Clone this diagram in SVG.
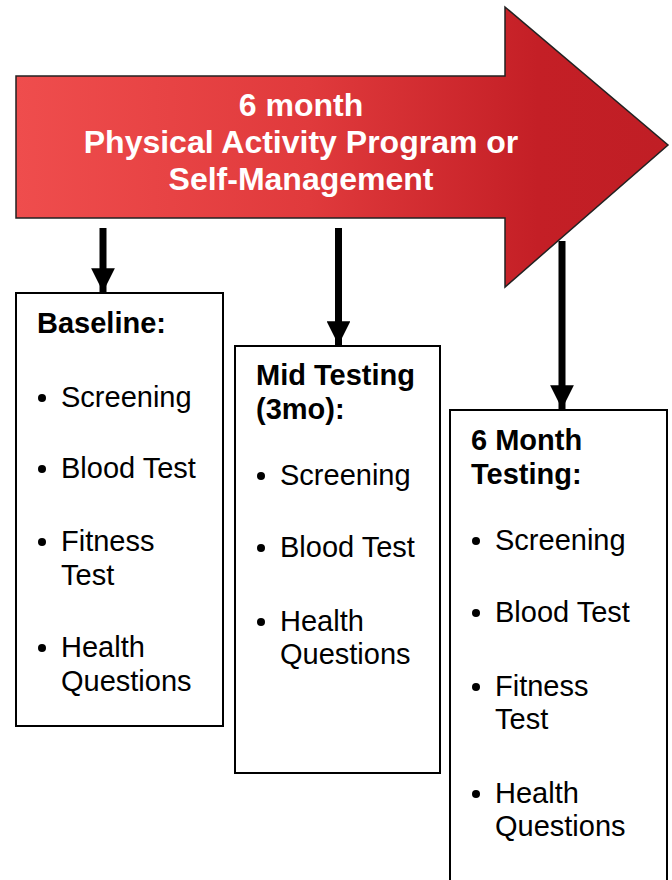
<svg xmlns="http://www.w3.org/2000/svg" width="672" height="880" viewBox="0 0 672 880">
<defs>
<linearGradient id="red" x1="0" y1="0" x2="1" y2="0" gradientUnits="objectBoundingBox">
<stop offset="0" stop-color="#EF4D4D"/>
<stop offset="0.45" stop-color="#E03A3C"/>
<stop offset="0.8" stop-color="#C41F26"/>
<stop offset="1" stop-color="#C01E25"/>
</linearGradient>
<marker id="ah" markerWidth="3.4" markerHeight="3.4" refX="3.4" refY="1.7" orient="auto" markerUnits="strokeWidth">
<path d="M0,0 L3.4,1.7 L0,3.4 Z" fill="#000"/>
</marker>
</defs>
<style>
.box{fill:#fff;stroke:#000;stroke-width:2}
.t{font-family:"Liberation Sans",Arial,sans-serif;font-size:29px;fill:#000}
.h{font-family:"Liberation Sans",Arial,sans-serif;font-size:29px;font-weight:bold;fill:#000}
.w{font-family:"Liberation Sans",Arial,sans-serif;font-size:32px;font-weight:bold;fill:#fff}
.conn{stroke:#000;stroke-width:7;fill:none}
</style>
<g id="program">
<path d="M16,76 L505,76 L505,7 L668,145 L505,287 L505,218 L16,218 Z" fill="url(#red)" stroke="#222" stroke-width="1.5"/>
<text class="w" text-anchor="middle"><tspan x="301" y="116">6 month</tspan><tspan x="301" y="153">Physical Activity Program or</tspan><tspan x="301" y="190">Self-Management</tspan></text>
</g>
<g id="connectors">
<line class="conn" x1="103" y1="228" x2="103" y2="292" marker-end="url(#ah)"/>
<line class="conn" x1="338.5" y1="228" x2="338.5" y2="345" marker-end="url(#ah)"/>
<line class="conn" x1="562" y1="241" x2="562" y2="409" marker-end="url(#ah)"/>
</g>
<g id="baseline">
<rect class="box" x="16" y="293" width="207" height="433"/>
<text class="h" x="37" y="333">Baseline:</text>
<circle cx="42" cy="398" r="4"/><text class="t" x="61" y="407">Screening</text>
<circle cx="42" cy="469" r="4"/><text class="t" x="61" y="478">Blood Test</text>
<circle cx="42" cy="542" r="4"/><text class="t" x="61" y="551">Fitness</text><text class="t" x="61" y="585">Test</text>
<circle cx="42" cy="648" r="4"/><text class="t" x="61" y="657">Health</text><text class="t" x="61" y="691">Questions</text>
</g>
<g id="mid">
<rect class="box" x="235" y="346" width="205" height="427"/>
<text class="h" x="256" y="385">Mid Testing</text>
<text class="h" x="256" y="419">(3mo):</text>
<circle cx="261" cy="476" r="4"/><text class="t" x="280" y="485">Screening</text>
<circle cx="261" cy="548" r="4"/><text class="t" x="280" y="557">Blood Test</text>
<circle cx="261" cy="622" r="4"/><text class="t" x="280" y="631">Health</text><text class="t" x="280" y="664">Questions</text>
</g>
<g id="six-month">
<rect class="box" x="450" y="410" width="217" height="480"/>
<text class="h" x="471" y="450">6 Month</text>
<text class="h" x="471" y="484">Testing:</text>
<circle cx="476" cy="541" r="4"/><text class="t" x="495" y="550">Screening</text>
<circle cx="476" cy="613" r="4"/><text class="t" x="495" y="622">Blood Test</text>
<circle cx="476" cy="687" r="4"/><text class="t" x="495" y="696">Fitness</text><text class="t" x="495" y="729">Test</text>
<circle cx="476" cy="794" r="4"/><text class="t" x="495" y="803">Health</text><text class="t" x="495" y="836">Questions</text>
</g>
</svg>
